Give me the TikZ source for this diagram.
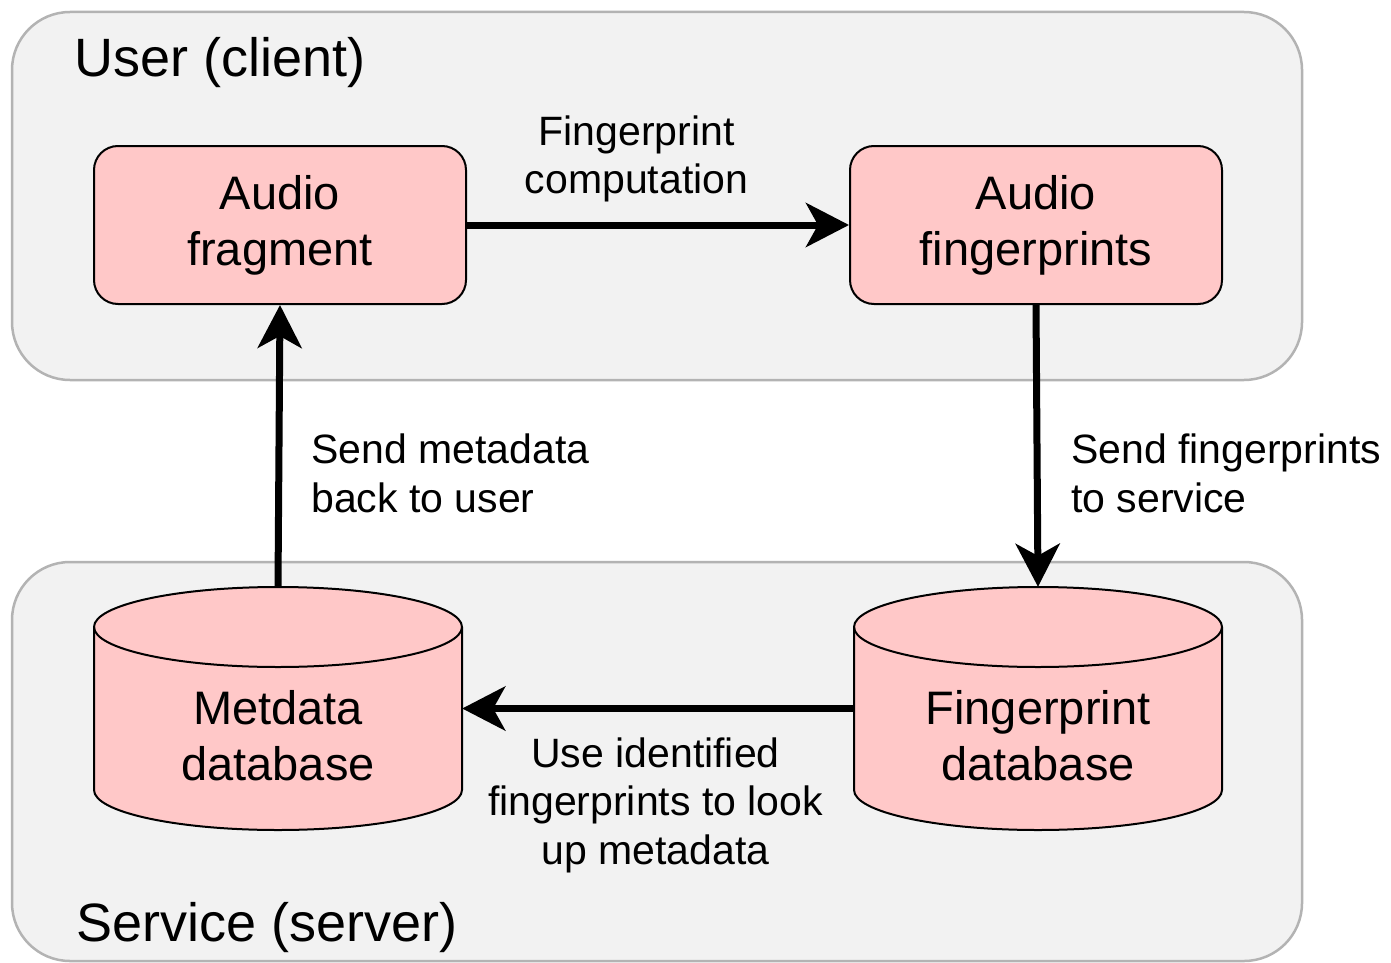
\documentclass[tikz,border=0pt]{standalone}
\usepackage{fontspec}
\setmainfont{Liberation Sans}
\usetikzlibrary{arrows.meta}
\definecolor{contfill}{HTML}{F2F2F2}
\definecolor{contline}{HTML}{B3B3B3}
\definecolor{pinkfill}{HTML}{FFC8C8}
\begin{document}
\begin{tikzpicture}[x=1pt,y=-1pt,
 cont/.style={draw=contline,line width=2.5pt,fill=contfill,rounded corners=58pt},
 procbox/.style={draw=black,line width=2pt,fill=pinkfill,rounded corners=24pt,minimum width=372pt,minimum height=158pt,inner sep=0pt,align=center,font=\fontsize{47}{56}\selectfont},
 dbbox/.style={minimum width=368pt,minimum height=243pt,inner sep=0pt},
 dbshape/.style={draw=black,line width=2pt,fill=pinkfill},
 dbedge/.style={draw=black,line width=2pt},
 dbtext/.style={align=center,inner sep=0pt,font=\fontsize{47}{56}\selectfont},
 lbl/.style={inner sep=0pt,font=\fontsize{41}{48.5}\selectfont},
 title/.style={inner sep=0pt,anchor=base west,font=\fontsize{54}{64}\selectfont},
 flow/.style={line width=7pt,-{Stealth[length=43pt,width=44pt,inset=12pt]}}
]
\useasboundingbox (0,0) rectangle (1391,963);
% containers
\path[cont] (12,12) rectangle (1302,380);
\path[cont] (12,562) rectangle (1302,961);
\node[title] (usr) at (74,77) {User (client)};
\node[title] (srv) at (76,941) {Service (server)};
% process boxes
\node[procbox] (afr) at (280,225) {Audio\\fragment};
\node[procbox] (afp) at (1036,225) {Audio\\fingerprints};
% database anchors
\node[dbbox] (mdb) at (278,708.5) {};
\node[dbbox] (fdb) at (1038,708.5) {};
% metadata cylinder
\path[dbshape] (94,627) -- (94,790) arc[start angle=180,end angle=360,x radius=184pt,y radius=40pt] -- (462,627) arc[start angle=0,end angle=180,x radius=184pt,y radius=40pt] -- cycle;
\path[dbedge] (94,627) arc[start angle=180,end angle=360,x radius=184pt,y radius=40pt];
% fingerprint cylinder
\path[dbshape] (854,627) -- (854,790) arc[start angle=180,end angle=360,x radius=184pt,y radius=40pt] -- (1222,627) arc[start angle=0,end angle=180,x radius=184pt,y radius=40pt] -- cycle;
\path[dbedge] (854,627) arc[start angle=180,end angle=360,x radius=184pt,y radius=40pt];
\node[dbtext] (mdbt) at (278,736) {Metdata\\database};
\node[dbtext] (fdbt) at (1038,736) {Fingerprint\\database};
% connectors
\draw[flow] (afr.east) -- (afp.west);
\draw[flow] (afp.south) -- (fdb.north);
\draw[flow] (fdb.west) -- (mdb.east);
\draw[flow] (mdb.north) -- (afr.south);
% labels
\node[lbl,align=center] (l1) at (636.5,159) {Fingerprint\\computation};
\node[lbl,align=left,anchor=north west] (l2) at (311,434) {Send metadata\\back to user};
\node[lbl,align=left,anchor=north west] (l3) at (1071,434) {Send fingerprints\\to service};
\node[lbl,align=center] (l4) at (655.5,805) {Use identified\\fingerprints to look\\up metadata};
\end{tikzpicture}
\end{document}
